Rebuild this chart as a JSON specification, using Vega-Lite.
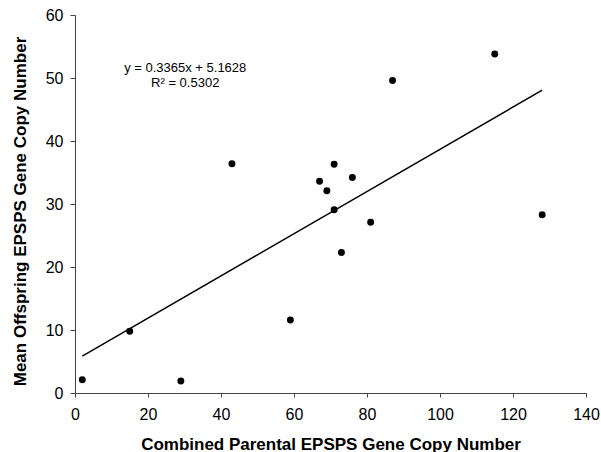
{
  "$schema": "https://vega.github.io/schema/vega-lite/v6.json",
  "autosize": {"type": "none"},
  "width": 511,
  "height": 378,
  "padding": {"left": 75, "top": 15, "right": 15, "bottom": 59},
  "background": "white",
  "config": {
    "view": {"stroke": null},
    "font": "Liberation Sans",
    "axis": {
      "grid": false,
      "domainColor": "#444444",
      "tickColor": "#444444",
      "labelColor": "#000000",
      "titleColor": "#000000",
      "labelFont": "Liberation Sans",
      "titleFont": "Liberation Sans",
      "labelFontSize": 16,
      "titleFontSize": 17,
      "titleFontWeight": "bold",
      "labelFlush": false
    }
  },
  "data": {
    "values": [
      {"parental": 2, "offspring": 2.1},
      {"parental": 15, "offspring": 9.8},
      {"parental": 29, "offspring": 1.9},
      {"parental": 43, "offspring": 36.4},
      {"parental": 59, "offspring": 11.6},
      {"parental": 67, "offspring": 33.6},
      {"parental": 69, "offspring": 32.1},
      {"parental": 71, "offspring": 36.3},
      {"parental": 71, "offspring": 29.1},
      {"parental": 73, "offspring": 22.3},
      {"parental": 76, "offspring": 34.2},
      {"parental": 81, "offspring": 27.1},
      {"parental": 87, "offspring": 49.6},
      {"parental": 115, "offspring": 53.8},
      {"parental": 128, "offspring": 28.3}
    ]
  },
  "layer": [
    {
      "mark": {"type": "line", "color": "#000000", "strokeWidth": 1.5},
      "transform": [{"regression": "offspring", "on": "parental"}],
      "encoding": {
        "x": {"field": "parental", "type": "quantitative"},
        "y": {"field": "offspring", "type": "quantitative"}
      }
    },
    {
      "mark": {"type": "circle", "color": "#000000", "opacity": 1, "size": 48},
      "encoding": {
        "x": {
          "field": "parental",
          "type": "quantitative",
          "scale": {"domain": [0, 140], "nice": false},
          "axis": {"values": [0, 20, 40, 60, 80, 100, 120, 140], "title": "Combined Parental EPSPS Gene Copy Number", "titlePadding": 14, "labelPadding": 9, "tickSize": 4}
        },
        "y": {
          "field": "offspring",
          "type": "quantitative",
          "scale": {"domain": [0, 60], "nice": false},
          "axis": {"values": [0, 10, 20, 30, 40, 50, 60], "title": "Mean Offspring EPSPS Gene Copy Number", "titlePadding": 16, "labelPadding": 7, "tickSize": 5, "titleY": 196}
        }
      }
    },
    {
      "data": {"values": [
        {"lx": 30.2, "ly": 51.6, "label": "y = 0.3365x + 5.1628"},
        {"lx": 30.2, "ly": 49.2, "label": "R² = 0.5302"}
      ]},
      "mark": {"type": "text", "fontSize": 13, "color": "#000000", "align": "center", "baseline": "middle"},
      "encoding": {
        "x": {"field": "lx", "type": "quantitative"},
        "y": {"field": "ly", "type": "quantitative"},
        "text": {"field": "label"}
      }
    }
  ]
}
